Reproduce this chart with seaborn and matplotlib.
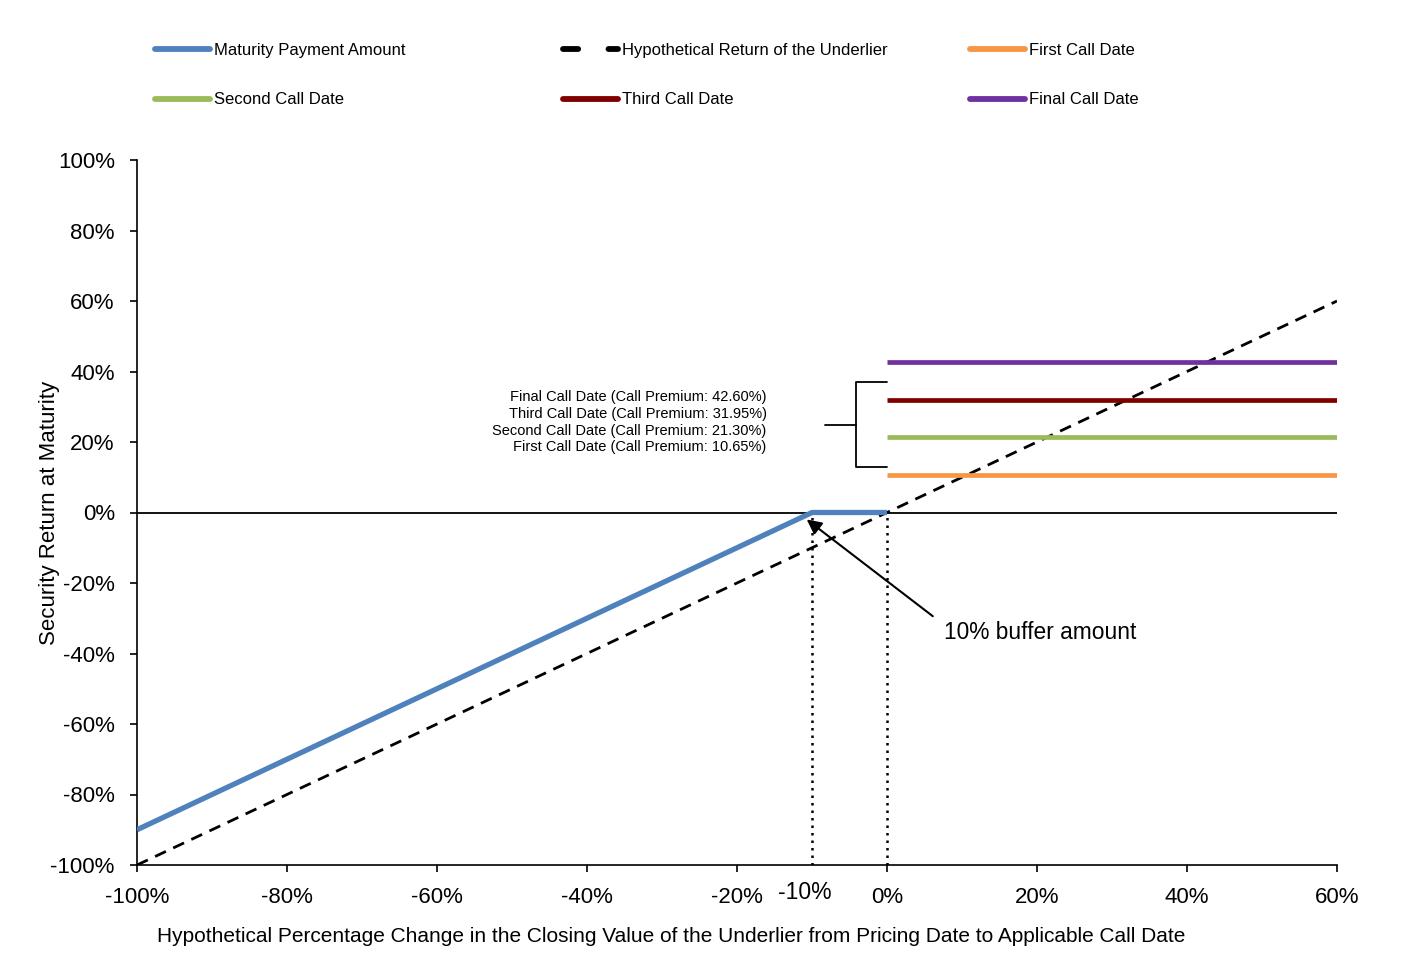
import numpy as np
import pandas as pd
import matplotlib
matplotlib.use("Agg")
import matplotlib.pyplot as plt
from matplotlib.lines import Line2D
import seaborn as sns

# ---------------- data ----------------
maturity_x = [-100, -10, 0]
maturity_y = [-90, 0, 0]
underlier_x = [-100, 60]
underlier_y = [-100, 60]
call_x = [0, 60]
call_names = ["First Call Date", "Second Call Date", "Third Call Date", "Final Call Date"]
call_premiums = [10.65, 21.30, 31.95, 42.60]
call_colors = ["#F79646", "#9BBB59", "#800000", "#7030A0"]
x_ticks = [-100, -80, -60, -40, -20, 0, 20, 40, 60]
y_ticks = [-100, -80, -60, -40, -20, 0, 20, 40, 60, 80, 100]
buffer_level = -10

sns.set_style("ticks")
plt.rcParams['font.family'] = ['Liberation Sans', 'DejaVu Sans']
plt.rcParams['text.color'] = 'black'
plt.rcParams['axes.labelcolor'] = 'black'

fig = plt.figure(figsize=(14.02, 9.71), dpi=100)
ax = fig.add_axes([137/1402, 1-865/971, 1200/1402, 705/971])

blue = "#4F81BD"

sns.lineplot(x=maturity_x, y=maturity_y, ax=ax, color=blue, lw=3.8,
             solid_capstyle="butt", zorder=5)
sns.lineplot(x=underlier_x, y=underlier_y, ax=ax, color="black", lw=2.0,
             linestyle=(0, (4.3, 2.9)), zorder=4)
for lvl, c in zip(call_premiums, call_colors):
    sns.lineplot(x=call_x, y=[lvl, lvl], ax=ax, color=c, lw=3.4,
                 solid_capstyle="butt", zorder=4)

# zero line
ax.axhline(0, color="black", lw=1.3, zorder=3)
# dotted verticals
for xv in [buffer_level, 0]:
    ax.plot([xv, xv], [-100, 0], color="black", lw=1.8, linestyle=(0, (1, 2)), zorder=3)

ax.set_xlim(-100, 60)
ax.set_ylim(-100, 100)
ax.set_xticks(x_ticks)
ax.set_xticklabels([f"{v}%" for v in x_ticks])
ax.set_yticks(y_ticks)
ax.set_yticklabels([f"{v}%" for v in y_ticks])
ax.tick_params(axis="both", labelsize=16, length=5, width=1.2, direction="out", pad=11,
               colors="black", labelcolor="black")
sns.despine(ax=ax, top=True, right=True)
for s in ["left", "bottom"]:
    ax.spines[s].set_linewidth(1.2)
    ax.spines[s].set_color("black")

ax.set_ylabel("Security Return at Maturity", fontsize=16, color="black")
ax.yaxis.set_label_coords(-0.064, 0.5)
fig.text(671/1402, 1-936/971, "Hypothetical Percentage Change in the Closing Value of the Underlier from Pricing Date to Applicable Call Date",
         fontsize=15, ha="center", va="center", color="black")

# extra -10% label
ax.text(-11.0, -104.5, "-10%", fontsize=16.5, ha="center", va="top", color="black")

# bracket
ax.plot([0, -4.13, -4.13, 0], [37.0, 37.0, 12.9, 12.9], color="black", lw=1.3, clip_on=False)
ax.plot([-8.27, -4.13], [24.8, 24.8], color="black", lw=1.3)

lines_txt = [f"{n} (Call Premium: {p:.2f}%)" for n, p in zip(call_names[::-1], call_premiums[::-1])]
for i, t in enumerate(lines_txt):
    ax.text(-16.05, 32.7 - i * 4.75, t, fontsize=10.5, ha="right", va="center", color="black")

# buffer annotation
ax.annotate("", xy=(-11.0, -1.5), xytext=(6.4, -29.9),
            arrowprops=dict(arrowstyle="-|>", color="black", lw=1.5, mutation_scale=22))
ax.text(7.6, -34.1, "10% buffer amount", fontsize=16.4, ha="left", va="center", color="black")

# legends (three columns)
def h(color, ls="-"):
    return Line2D([0], [0], color=color, lw=4.2, linestyle=ls, solid_capstyle="round",
                  dash_capstyle="round")

cols = [
    ([h(blue), h(call_colors[1])], ["Maturity Payment Amount", "Second Call Date"], 155),
    ([h("black", (0, (2.6, 5.2))), h(call_colors[2])], ["Hypothetical Return of the Underlier", "Third Call Date"], 563),
    ([h(call_colors[0]), h(call_colors[3])], ["First Call Date", "Final Call Date"], 970),
]
for handles, labels, xpx in cols:
    leg = fig.legend(handles, labels, loc="upper left",
                     bbox_to_anchor=(xpx/1402, 1-43/971), frameon=False, fontsize=12,
                     handlelength=3.3, handletextpad=0.25, labelspacing=2.07,
                     borderpad=0, borderaxespad=0, labelcolor="black")

fig.savefig("out.png", dpi=100)
